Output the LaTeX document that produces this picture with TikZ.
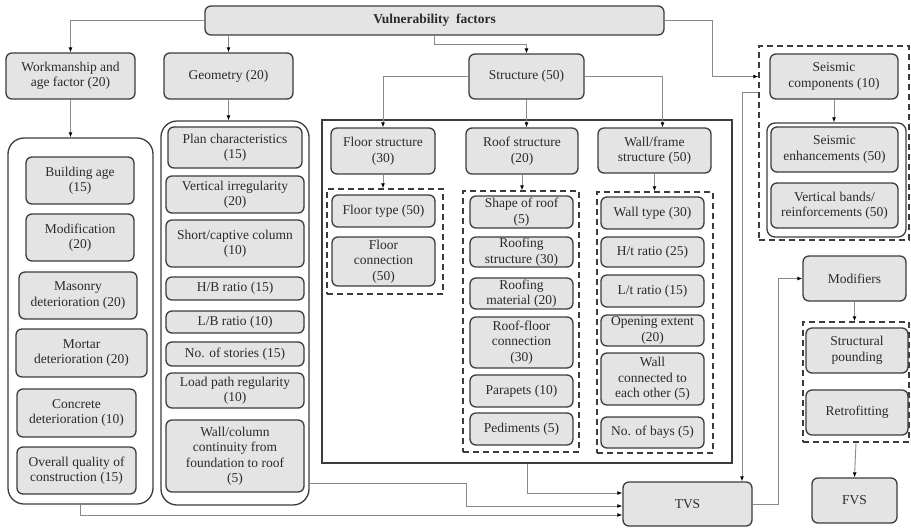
\documentclass[tikz,border=0pt]{standalone}
\usepackage{fontspec}
\setmainfont{Liberation Serif}
\usetikzlibrary{arrows.meta,calc}
\definecolor{boxfill}{HTML}{E4E4E4}
\definecolor{boxline}{HTML}{3C3C3C}
\definecolor{conncol}{HTML}{8A8A8A}
\definecolor{txt}{HTML}{2A2A2A}
\tikzset{
 gbox/.style={draw=boxline, fill=boxfill, line width=1.3pt, rounded corners=6pt, inner sep=0pt, align=center, text=txt, font=\fontsize{13.5}{15.5}\selectfont},
 bigbox/.style={draw=boxline, line width=1.3pt, rounded corners=16pt, inner sep=0pt},
 innerbox/.style={draw=boxline, line width=1.3pt, rounded corners=8pt, inner sep=0pt},
 dbox/.style={draw=boxline, line width=1.4pt, dash pattern=on 6pt off 4pt, inner sep=0pt},
 sbox/.style={draw=boxline, line width=1.3pt, inner sep=0pt},
 conn/.style={draw=conncol, line width=0.9pt, -{Latex[length=5pt,width=4pt,black]}},
 link/.style={draw=conncol, line width=0.9pt},
}
\newcommand{\bx}[7][gbox]{\node[#1, minimum width={(#5-#3)*1pt}, minimum height={(#6-#4)*1pt}] (#2) at ({(#3+#5)/2},{(#4+#6)/2}) {#7};}
\begin{document}
\begin{tikzpicture}[x=1pt,y=-1pt]
\fill[white] (0,0) rectangle (911,528);
\useasboundingbox (0,0) rectangle (911,528);
% containers
\bx[bigbox]{wbig}{8}{138}{153}{504}{}
\bx[bigbox]{gbig}{161}{121}{309}{505}{}
\bx[sbox]{sbig}{322}{120}{732}{463}{}
\bx[dbox]{fdash}{327}{189}{443}{294}{}
\bx[dbox]{rdash}{463}{191}{579}{452}{}
\bx[dbox]{wdash}{597}{192}{713}{453}{}
\bx[dbox]{sdash}{759}{46}{909}{240}{}
\bx[innerbox]{sin}{767}{123}{906}{237}{}
\bx[dbox]{mdash}{803}{322}{909}{442}{}
% top level
\bx{vf}{205}{6}{664}{35}{\bfseries Vulnerability\ \ factors}
\bx{wm}{6}{53}{135}{99}{Workmanship and\\age factor (20)}
\bx{geo}{164}{53}{293}{99}{Geometry (20)}
\bx{st}{469}{54}{584}{99}{Structure (50)}
\bx{sc}{770}{54}{898}{99}{Seismic\\components (10)}
% workmanship items
\bx{ba}{26}{157}{134}{204}{Building age\\(15)}
\bx{mo}{26}{214}{134}{261}{Modification\\(20)}
\bx{ma}{19}{272}{137}{319}{Masonry\\deterioration (20)}
\bx{mt}{16}{329}{147}{377}{Mortar\\deterioration (20)}
\bx{co}{17}{389}{136}{437}{Concrete\\deterioration (10)}
\bx{oq}{17}{447}{136}{494}{Overall quality of\\construction (15)}
% geometry items
\bx{pc}{168}{127}{302}{168}{Plan characteristics\\(15)}
\bx{vi}{166}{176}{304}{213}{Vertical irregularity\\(20)}
\bx{sh}{166}{220}{304}{267}{Short/captive column\\(10)}
\bx{hb}{166}{277}{304}{300}{H/B ratio (15)}
\bx{lb}{166}{311}{304}{333}{L/B ratio (10)}
\bx{ns}{166}{342}{304}{366}{No. of stories (15)}
\bx{lp}{166}{373}{304}{408}{Load path regularity\\(10)}
\bx{wc}{166}{420}{304}{492}{Wall/column\\continuity from\\foundation to roof\\(5)}
% structure
\bx{floor}{331}{128}{435}{174}{Floor structure\\(30)}
\bx{roof}{466}{128}{578}{174}{Roof structure\\(20)}
\bx{wall}{598}{128}{711}{173}{Wall/frame\\structure (50)}
\bx{ft}{332}{195}{435}{227}{Floor type (50)}
\bx{fc}{332}{237}{435}{286}{Floor\\connection\\(50)}
\bx{sr}{470}{196}{573}{228}{Shape of roof\\(5)}
\bx{rs}{470}{237}{573}{267}{Roofing\\structure (30)}
\bx{rm}{470}{278}{573}{309}{Roofing\\material (20)}
\bx{rf}{470}{317}{573}{368}{Roof-floor\\connection\\(30)}
\bx{pa}{470}{375}{573}{407}{Parapets (10)}
\bx{pe}{470}{413}{573}{445}{Pediments (5)}
\bx{wt}{601}{197}{704}{229}{Wall type (30)}
\bx{ht}{601}{237}{704}{267}{H/t ratio (25)}
\bx{lt}{601}{275}{704}{307}{L/t ratio (15)}
\bx{oe}{601}{315}{704}{346}{Opening extent\\(20)}
\bx{wce}{601}{353}{704}{405}{Wall\\connected to\\each other (5)}
\bx{nb}{601}{417}{704}{448}{No. of bays (5)}
% seismic
\bx{se}{771}{127}{898}{172}{Seismic\\enhancements (50)}
\bx{vb}{771}{183}{898}{228}{Vertical bands/\\reinforcements (50)}
% right
\bx{mod}{803}{256}{906}{301}{Modifiers}
\bx{sp}{806}{328}{908}{373}{Structural\\pounding}
\bx{rt}{806}{390}{908}{435}{Retrofitting}
\bx{fvs}{812}{478}{897}{523}{FVS}
\bx{tvs}{623}{482}{752}{526}{TVS}
% waypoints
\coordinate (k1) at (712,0);
\coordinate (k2) at (742,92);
\coordinate (k3) at (778,0);
\coordinate (b1) at (0,493);
\coordinate (b2) at (466,483);
\coordinate (b2b) at (466,506);
\coordinate (b3) at (0,515);
% connectors
\draw[conn] (vf.west) -| (wm.north);
\draw[conn] (vf.south -| geo.north) -- (geo.north);
\draw[conn] (vf.south) -- ++(0,9) -| (st.north);
\draw[conn] (vf.east) -| (k1 |- sc.west) -- (sdash.west |- sc.west);
\draw[conn] (wm.south) -- (wm.south |- wbig.north);
\draw[conn] (geo.south) -- (geo.south |- gbig.north);
\draw[conn] (st.west) -| (floor.north);
\draw[conn] (st.south) -- (st.south |- roof.north);
\draw[conn] (st.east) -| ($(wall.north)+(8,0)$);
\draw[conn] (floor.south) -- (floor.south |- fdash.north);
\draw[conn] (roof.south) -- (roof.south |- rdash.north);
\draw[conn] (wall.south) -- (wall.south |- wdash.north);
\draw[conn] (sc.south) -- (sc.south |- sin.north);
\draw[conn] (sdash.west |- k2) -- (k2) -- (k2 |- tvs.north);
\draw[conn] (tvs.east) -| (k3 |- mod.west) -- (mod.west);
\draw[conn] (mod.south) -- (mod.south |- mdash.north);
\draw[conn] (mdash.south) -- (fvs.north);
\draw[conn] (sbig.south) |- (b1 -| tvs.west);
\draw[conn] (gbig.east |- b2) -- (b2) |- (b2b -| tvs.west);
\draw[conn] (wbig.south) |- (b3 -| tvs.west);
\end{tikzpicture}
\end{document}
